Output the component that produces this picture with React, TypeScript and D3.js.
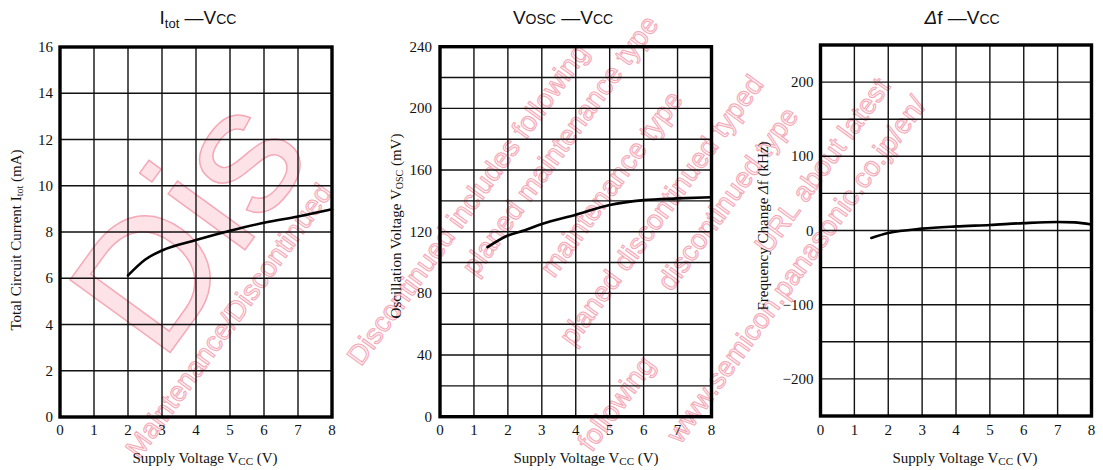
import React, { useMemo } from "react";
import * as d3 from "d3";

// ---- data ----
const vccTicks = [0, 1, 2, 3, 4, 5, 6, 7, 8];

const itotV = [2, 2.5, 3, 4, 5, 6, 7, 8];
const itotVals = [6.12, 6.8, 7.2, 7.65, 8.05, 8.4, 8.67, 8.98];
const itotTicks = [0, 2, 4, 6, 8, 10, 12, 14, 16];
const itotGrid = [2, 4, 6, 8, 10, 12, 14];

const voscV = [1.4, 2, 2.5, 3, 4, 5, 6, 7, 8];
const voscVals = [110, 117.5, 121, 125, 131, 137.3, 140.5, 141.6, 142.3];
const voscTicks = [0, 40, 80, 120, 160, 200, 240];
const voscGrid = [20, 40, 60, 80, 100, 120, 140, 160, 180, 200, 220];

const dfV = [1.5, 2, 3, 4, 5, 6, 7, 7.5, 8];
const dfVals = [-10, -3.5, 2.5, 5.5, 7.5, 10, 11.5, 11, 8];
const dfTicks = [-200, -100, 0, 100, 200];
const dfTickLabels = ["\u2212200", "\u2212100", "0", "100", "200"];
const dfGrid = [-200, -150, -100, -50, 0, 50, 100, 150, 200];

// watermark lines: [baseline offset, start offset, text]
const wmBig: [number, number, string][] = [
  [160, -175, "Maintenance/"],
  [345, -200, "Discontinued"],
];
const wmSmall: [number, number, string][] = [
  [383, -290, "Maintenance/Discontinued"],
  [508, -253, "Maintenance/Discontinued includes following four Product lifecycle stage."],
  [548, 55, "planed maintenance type"],
  [612, 100, "maintenance type"],
  [668, 56, "planed discontinued typed"],
  [715, 158, "discontinued type"],
  [745, -168, "Please visit following"],
  [772, 245, "URL about latest information."],
  [812, -30, "http://www.semicon.panasonic.co.jp/en/"],
];

const SERIF = "'Liberation Serif', 'Times New Roman', serif";
const SANS = "'Liberation Sans', Arial, sans-serif";
const W = 1103;
const H = 470;
const ANG = -54;

type Piece = { u: number; n: number; t: string };

function splitInside(lines: [number, number, string][], size: number, byGlyph: boolean): Piece[] {
  const ctx = document.createElement("canvas").getContext("2d");
  const font = `${size}px 'Liberation Sans', Arial, sans-serif`;
  const measure = (s: string) => {
    if (ctx) {
      ctx.font = font;
      return ctx.measureText(s).width;
    }
    return s.length * size * 0.55;
  };
  const a = (ANG * Math.PI) / 180;
  const c = Math.cos(a);
  const s = Math.sin(a);
  const toPage = (u: number, n: number) => [u * c - n * s, u * s + n * c];
  const out: Piece[] = [];
  lines.forEach(([n, u0, text]) => {
    const parts: { start: number; str: string }[] = [];
    if (byGlyph) {
      for (let i = 0; i < text.length; i++) parts.push({ start: i, str: text[i] });
    } else {
      const re = /[^ ./:]+[./:]*/g;
      let m: RegExpExecArray | null;
      while ((m = re.exec(text)) !== null) parts.push({ start: m.index, str: m[0] });
    }
    parts.forEach(({ start, str }) => {
      if (!str.trim()) return;
      const u = u0 + measure(text.slice(0, start));
      const w = measure(str);
      const top = n - size * 0.95;
      const bot = n + size * 0.25;
      const corners = [toPage(u, top), toPage(u + w, top), toPage(u, bot), toPage(u + w, bot)];
      const inside = corners.every(([x, y]) => x >= 2 && x <= W - 2 && y >= 2 && y <= H - 2);
      if (inside) out.push({ u, n, t: str });
    });
  });
  return out;
}

type PanelProps = {
  x0: number; x1: number; y0: number; y1: number;
  yDomain: [number, number];
  grid: number[];
  ticks: number[];
  tickLabels?: string[];
  xs: number[]; ys: number[];
  title: React.ReactNode; titleX: number;
  yLabel: React.ReactNode; yLabelX: number; yLabelY: number;
  xLabelX: number;
  tickGap: number;
};

function Panel(p: PanelProps) {
  const x = d3.scaleLinear().domain([0, 8]).range([p.x0, p.x1]);
  const y = d3.scaleLinear().domain(p.yDomain).range([p.y0, p.y1]);
  const line = d3
    .line<number>()
    .x((_, i) => x(p.xs[i]))
    .y((d) => y(d))
    .curve(d3.curveMonotoneX);
  return (
    <g>
      {vccTicks.slice(1, -1).map((v) => (
        <line key={"vx" + v} x1={x(v)} x2={x(v)} y1={p.y0} y2={p.y1} stroke="#111" strokeWidth={1.4} />
      ))}
      {p.grid.map((v) => (
        <line key={"hy" + v} x1={p.x0} x2={p.x1} y1={y(v)} y2={y(v)} stroke="#111" strokeWidth={1.4} />
      ))}
      <rect x={p.x0} y={p.y1} width={p.x1 - p.x0} height={p.y0 - p.y1} fill="none" stroke="#000" strokeWidth={3.4} />
      <path d={line(p.ys) || ""} fill="none" stroke="#000" strokeWidth={2.6} strokeLinecap="round" />
      {p.ticks.map((v, i) => (
        <text key={"ty" + v} x={p.x0 - p.tickGap} y={y(v) + 5} textAnchor="end" fontFamily={SERIF} fontSize={15} fill="#111">
          {p.tickLabels ? p.tickLabels[i] : v}
        </text>
      ))}
      {vccTicks.map((v) => (
        <text key={"tx" + v} x={x(v)} y={435} textAnchor="middle" fontFamily={SERIF} fontSize={15} fill="#111">
          {v}
        </text>
      ))}
      <text x={p.xLabelX} y={463} textAnchor="middle" fontFamily={SERIF} fontSize={15} fill="#111">
        Supply Voltage V<tspan fontSize={11} dy={2}>CC</tspan><tspan dy={-2}> (V)</tspan>
      </text>
      <text
        transform={`translate(${p.yLabelX},${p.yLabelY}) rotate(-90)`}
        textAnchor="middle"
        fontFamily={SERIF}
        fontSize={15}
        fill="#111"
      >
        {p.yLabel}
      </text>
      <text x={p.titleX} y={24} textAnchor="middle" fontFamily={SANS} fontSize={19} fill="#111">
        {p.title}
      </text>
    </g>
  );
}

function Watermark() {
  const big = useMemo(() => splitInside(wmBig, 180, true), []);
  const small = useMemo(() => splitInside(wmSmall, 28, false), []);
  return (
    <g transform={`rotate(${ANG})`}>
      {big.map((p, i) => (
        <text key={"b" + i} x={p.u} y={p.n} fontFamily={SANS} fontSize={180}
          fill="#fde2e7" stroke="#f5a9b7" strokeWidth={1.5}>
          {p.t}
        </text>
      ))}
      {small.map((p, i) => (
        <text key={"s" + i} x={p.u} y={p.n} fontFamily={SANS} fontSize={28}
          fill="#fdeef1" stroke="#f4a8b6" strokeWidth={1}>
          {p.t}
        </text>
      ))}
    </g>
  );
}

export default function App() {
  return (
    <svg width={W} height={H} style={{ position: "absolute", left: 0, top: 0, background: "#fff" }}>
      <rect x={0} y={0} width={W} height={H} fill="#fff" />
      <Watermark />
      <Panel
        x0={60} x1={332} y0={417} y1={47}
        yDomain={[0, 16]} grid={itotGrid} ticks={itotTicks}
        xs={itotV} ys={itotVals}
        title={<>I<tspan fontSize={13} dy={4}>tot</tspan><tspan dy={-4}> —V</tspan><tspan fontSize={14}>CC</tspan></>}
        titleX={198}
        yLabel={<>Total Circuit Current I<tspan fontSize={10} dy={2}>tot</tspan><tspan dy={-2}> (mA)</tspan></>}
        yLabelX={21} yLabelY={240}
        xLabelX={205}
        tickGap={7}
      />
      <Panel
        x0={440} x1={711.5} y0={416.7} y1={46.7}
        yDomain={[0, 240]} grid={voscGrid} ticks={voscTicks}
        xs={voscV} ys={voscVals}
        title={<>V<tspan fontSize={14}>OSC</tspan><tspan> —V</tspan><tspan fontSize={14}>CC</tspan></>}
        titleX={563}
        yLabel={<>Oscillation Voltage V<tspan fontSize={10} dy={2}>OSC</tspan><tspan dy={-2}> (mV)</tspan></>}
        yLabelX={401} yLabelY={226}
        xLabelX={586}
        tickGap={8}
      />
      <Panel
        x0={820.5} x1={1091.5} y0={416} y1={45}
        yDomain={[-250, 250]} grid={dfGrid} ticks={dfTicks} tickLabels={dfTickLabels}
        xs={dfV} ys={dfVals}
        title={<><tspan fontStyle="italic">Δ</tspan>f —V<tspan fontSize={14}>CC</tspan></>}
        titleX={962}
        yLabel={<>Frequency Change <tspan fontStyle="italic">Δ</tspan>f (kHz)</>}
        yLabelX={768} yLabelY={226}
        xLabelX={965}
        tickGap={7}
      />
    </svg>
  );
}
